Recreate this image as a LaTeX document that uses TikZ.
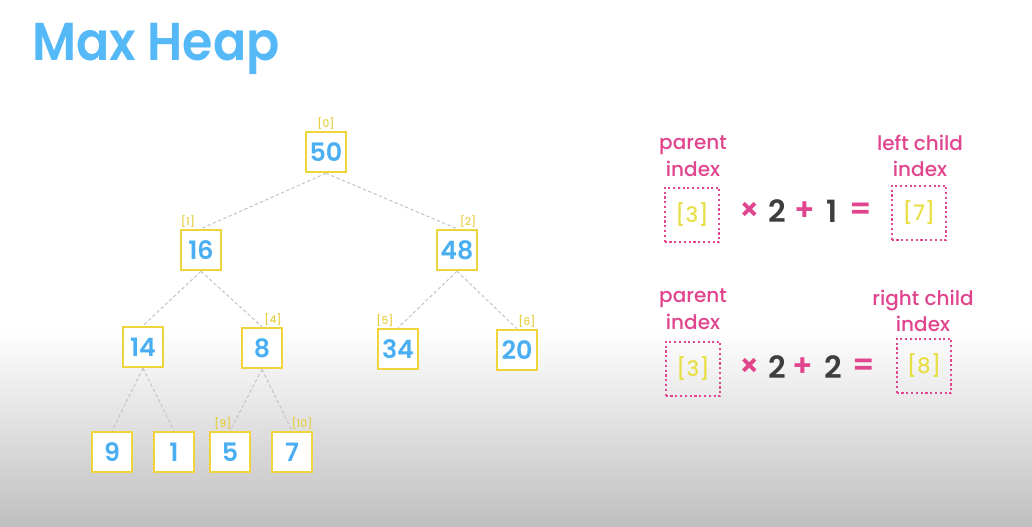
\documentclass[tikz,border=0pt]{standalone}
\usepackage{fontspec}
\setmainfont{Poppins}
\newfontfamily\semib{Poppins}[UprightFont={* SemiBold}]
\newfontfamily\medf{Poppins}[UprightFont={* Medium}]
\usetikzlibrary{positioning}
\definecolor{cBlue}{HTML}{4AAEF2}
\definecolor{cTitle}{HTML}{55B8F7}
\definecolor{cGold}{HTML}{F0D43C}
\definecolor{cIdx}{HTML}{E6CF45}
\definecolor{cPink}{HTML}{E0458D}
\definecolor{cBrk}{HTML}{E8DF48}
\definecolor{cDark}{HTML}{3E3E3E}
\definecolor{cEdge}{HTML}{C4C4C4}
\tikzset{
  heap/.style={draw=cGold, line width=1.9pt, fill=white, minimum size=30pt,
               inner sep=0pt, text=cBlue, font=\fontsize{19}{19}\selectfont\semib},
  idx/.style={font=\fontsize{8}{8}\selectfont\medf, text=cIdx, inner sep=1pt},
  edg/.style={draw=cEdge, line width=0.75pt, dash pattern=on 2.5pt off 1.8pt},
  lbl/.style={font=\fontsize{15}{20}\selectfont\medf, text=cPink, align=center},
  slot/.style={draw=cPink, line width=1.6pt, dotted, minimum size=41pt,
               text=cBrk, font=\fontsize{16}{16}\selectfont\medf},
  op/.style={font=\fontsize{23}{23}\selectfont\semib, inner sep=0pt},
}

\begin{document}
\begin{tikzpicture}[x=0.75pt, y=-0.75pt]
  \useasboundingbox (0,0) rectangle (1032,527);
  % background
  \fill[white] (0,0) rectangle (1032,330);
  \shade[top color=white, bottom color=black!25] (0,330) rectangle (1032,527);
  \node[anchor=base west, text=cTitle, font=\fontsize{40}{40}\selectfont\semib,
        inner sep=0pt, xscale=0.92, transform shape]
    (title) at (32,61) {Max Heap};
  % tree
  \node[heap, label={[idx]above:[0]}] (n0) at (326,152) {50};
  \node[heap, label={[idx, xshift=-9.75pt]above:[1]}] (n1) at (201,250) {16};
  \node[heap, label={[idx, xshift=8.25pt]above:[2]}] (n2) at (457,250) {48};
  \node[heap] (n3) at (143,347) {14};
  \node[heap, label={[idx, xshift=8.25pt]above:[4]}] (n4) at (262,348) {8};
  \node[heap, label={[idx, xshift=-9.75pt]above:[5]}] (n5) at (398,349) {34};
  \node[heap, label={[idx, xshift=7.5pt]above:[6]}] (n6) at (517,350) {20};
  \node[heap] (n7) at (112,452) {9};
  \node[heap] (n8) at (174,452) {1};
  \node[heap, label={[idx, xshift=-5.25pt]above:[9]}] (n9) at (230,452) {5};
  \node[heap, label={[idx, xshift=7.5pt]above:[10]}] (n10) at (292,452) {7};
  \foreach \p/\c in {0/1, 0/2, 1/3, 1/4, 2/5, 2/6, 3/7, 3/8, 4/9, 4/10}
    \draw[edg] (n\p.south) -- (n\c.north);
  % left child formula
  \node[lbl] (pa) at (693,156) {parent\\index};
  \node[slot] (sa) at (692,215) {[3]};
  \foreach \x/\s/\c [count=\i] in {750/×/cPink, 777/2/cDark, 805/+/cPink, 832/1/cDark, 861/=/cPink}
    \node[op, text=\c] (opa\i) at (\x,211) {\s};
  \node[lbl] (la) at (920,156) {left child\\index};
  \node[slot] (ra) at (919,213) {[7]};
  % right child formula
  \node[lbl] (pb) at (693,309) {parent\\index};
  \node[slot] (sb) at (693,369) {[3]};
  \foreach \x/\s/\c [count=\i] in {750/×/cPink, 777/2/cDark, 803/+/cPink, 833/2/cDark, 864/=/cPink}
    \node[op, text=\c] (opb\i) at (\x,367) {\s};
  \node[lbl] (lb) at (923,311) {right child\\index};
  \node[slot] (rb) at (924,366) {[8]};
\end{tikzpicture}
\end{document}
